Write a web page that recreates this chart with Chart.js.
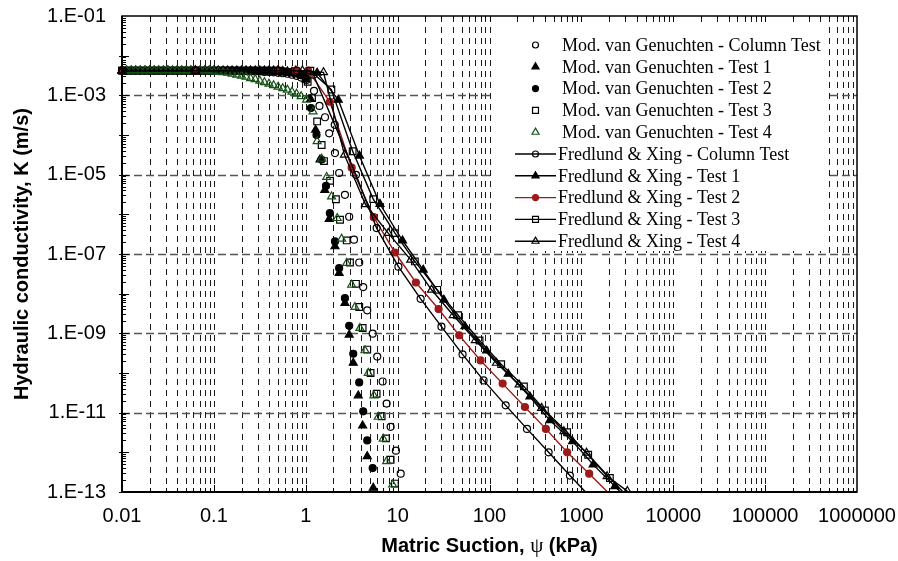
<!DOCTYPE html>
<html>
<head>
<meta charset="utf-8">
<title>Hydraulic conductivity vs matric suction</title>
<script src="https://cdn.jsdelivr.net/npm/chart.js@4.4.1/dist/chart.umd.min.js"></script>
<style>
  html, body { margin: 0; padding: 0; background: #fff; }
  #wrap { width: 898px; height: 561px; }
</style>
</head>
<body>
<div id="wrap"><canvas id="kChart" width="898" height="561"></canvas></div>
<script>
// Hydraulic conductivity K (m/s) against matric suction psi (kPa)

// axis labels
const suctionTickLabels = ['0.01', '0.1', '1', '10', '100', '1000', '10000', '100000', '1000000'];
const kTickValues = [1e-13, 1e-11, 1e-9, 1e-7, 1e-5, 1e-3, 1e-1];
const kTickLabels = ['1.E-13', '1.E-11', '1.E-09', '1.E-07', '1.E-05', '1.E-03', '1.E-01'];

const seriesNames = [
  'Mod. van Genuchten - Column Test',
  'Mod. van Genuchten - Test 1',
  'Mod. van Genuchten - Test 2',
  'Mod. van Genuchten - Test 3',
  'Mod. van Genuchten - Test 4',
  'Fredlund & Xing - Column Test',
  'Fredlund & Xing - Test 1',
  'Fredlund & Xing - Test 2',
  'Fredlund & Xing - Test 3',
  'Fredlund & Xing - Test 4'
];

// Mod. van Genuchten: saturated part shared by every test
const psiFlat = [0.010, 0.0112, 0.0126, 0.0141, 0.0158, 0.0178, 0.0200, 0.0224, 0.0251, 0.0282,
                 0.0316, 0.0355, 0.0398, 0.0447, 0.0501, 0.0562, 0.0631, 0.0708, 0.0794, 0.0891];
const kFlat = [4.2e-3, 4.2e-3, 4.2e-3, 4.2e-3, 4.2e-3, 4.2e-3, 4.2e-3, 4.2e-3, 4.2e-3, 4.2e-3,
               4.2e-3, 4.2e-3, 4.2e-3, 4.2e-3, 4.2e-3, 4.2e-3, 4.2e-3, 4.2e-3, 4.2e-3, 4.2e-3];

// Mod. van Genuchten: 0.1 - 0.9 kPa
const psiMid = [0.100, 0.112, 0.126, 0.141, 0.158, 0.178, 0.200, 0.224, 0.251, 0.282,
                0.316, 0.355, 0.398, 0.447, 0.501, 0.562, 0.631, 0.708, 0.794, 0.891];
const kMidCol = [4.2e-3, 4.2e-3, 4.2e-3, 4.2e-3, 4.2e-3, 4.2e-3, 4.1e-3, 4.1e-3, 4.1e-3, 4.0e-3,
                 4.0e-3, 3.9e-3, 3.9e-3, 3.8e-3, 3.7e-3, 3.6e-3, 3.5e-3, 3.3e-3, 3.1e-3, 2.8e-3];
const kMidT1 = [4.2e-3, 4.2e-3, 4.2e-3, 4.2e-3, 4.2e-3, 4.2e-3, 4.2e-3, 4.2e-3, 4.2e-3, 4.2e-3,
                4.2e-3, 4.2e-3, 4.2e-3, 4.2e-3, 4.1e-3, 4.1e-3, 4.0e-3, 3.9e-3, 3.7e-3, 3.3e-3];
const kMidT2 = [4.2e-3, 4.2e-3, 4.2e-3, 4.2e-3, 4.2e-3, 4.2e-3, 4.2e-3, 4.2e-3, 4.2e-3, 4.2e-3,
                4.2e-3, 4.2e-3, 4.2e-3, 4.2e-3, 4.1e-3, 4.0e-3, 3.9e-3, 3.8e-3, 3.6e-3, 3.2e-3];
const kMidT3 = [4.2e-3, 4.2e-3, 4.2e-3, 4.2e-3, 4.2e-3, 4.2e-3, 4.2e-3, 4.2e-3, 4.2e-3, 4.2e-3,
                4.2e-3, 4.2e-3, 4.2e-3, 4.1e-3, 4.1e-3, 4.0e-3, 3.9e-3, 3.8e-3, 3.6e-3, 3.3e-3];
const kMidT4 = [4.0e-3, 3.88e-3, 3.77e-3, 3.67e-3, 3.46e-3, 3.27e-3, 3.08e-3, 2.91e-3, 2.67e-3, 2.52e-3,
                2.31e-3, 2.12e-3, 1.94e-3, 1.78e-3, 1.63e-3, 1.5e-3, 1.37e-3, 1.22e-3, 1.09e-3, 9.4e-4];

// Mod. van Genuchten: desaturation branch of each test
const psiColMvg = [1.02, 1.23, 1.41, 1.62, 1.80, 2.08, 2.31, 2.67, 2.97, 3.35,
                   3.82, 4.22, 4.67, 5.35, 6.00, 6.87, 7.59, 8.39, 9.58, 10.8];
const kColMvg = [2.44e-3, 1.3e-3, 5.4e-4, 2.8e-4, 1.1e-4, 3.5e-5, 1.1e-5, 3.1e-6, 8.7e-7, 2.3e-7,
                 6.1e-8, 1.47e-8, 3.8e-9, 9.8e-10, 2.6e-10, 6.1e-11, 1.7e-11, 4.4e-12, 1.1e-12, 2.9e-13];
const psiT1Mvg = [1.00, 1.13, 1.28, 1.43, 1.61, 1.80, 2.08, 2.31, 2.67, 2.97, 3.29, 3.73, 4.16, 4.67, 5.43];
const kT1Mvg = [2.5e-3, 8.0e-4, 1.35e-4, 2.4e-5, 4.1e-6, 7.6e-7, 1.55e-7, 3.3e-8, 5.8e-9, 9.2e-10,
                1.8e-10, 2.7e-11, 4.7e-12, 7.9e-13, 1.27e-13];
const psiT2Mvg = [1.00, 1.14, 1.31, 1.48, 1.66, 1.83, 2.08, 2.31, 2.67, 2.97, 3.29, 3.82, 4.22, 4.67, 5.35];
const kT2Mvg = [2.7e-3, 4.8e-4, 1.0e-4, 2.4e-5, 5.2e-6, 1.07e-6, 2.07e-7, 4.4e-8, 7.7e-9, 1.55e-9,
                3.06e-10, 5.8e-11, 1.08e-11, 2.0e-12, 4.0e-13];
const psiT3Mvg = [1.05, 1.17, 1.33, 1.49, 1.58, 1.84, 2.13, 2.36, 2.79, 3.03,
                  3.52, 3.82, 4.16, 4.67, 5.08, 5.91, 6.70, 7.46, 8.39, 9.35];
const kT3Mvg = [2.2e-3, 8.5e-4, 2.2e-4, 5.6e-5, 2.2e-5, 7.0e-6, 2.4e-6, 7.3e-7, 2.2e-7, 6.1e-8,
                1.77e-8, 4.6e-9, 1.36e-9, 3.9e-10, 1.0e-10, 3.0e-11, 8.1e-12, 2.25e-12, 6.5e-13, 1.63e-13];
const psiT4Mvg = [1.02, 1.20, 1.33, 1.49, 1.69, 1.91, 2.20, 2.46, 2.79, 3.16,
                  3.43, 3.89, 4.41, 4.79, 5.52, 6.15, 6.97, 7.59, 8.83];
const kT4Mvg = [7.7e-4, 3.9e-4, 6.9e-5, 2.5e-5, 8.7e-6, 2.8e-6, 8.0e-7, 2.4e-7, 5.9e-8, 1.68e-8,
                4.6e-9, 1.36e-9, 3.7e-10, 1.0e-10, 2.7e-11, 7.8e-12, 2.2e-12, 5.9e-13, 1.53e-13];

// Fredlund & Xing fits
const psiColFx = [0.01, 0.063, 0.50, 0.80, 1.21, 2.07, 3.52, 5.91, 10.2, 17.8, 30.0, 50.9, 86.2, 150, 256, 440, 750, 1270];
const kColFx = [4.2e-3, 4.2e-3, 4.2e-3, 4.2e-3, 3.3e-3, 1.8e-4, 9.9e-6, 4.5e-7, 4.8e-8, 7.4e-9, 1.47e-9,
                2.94e-10, 6.5e-11, 1.53e-11, 3.9e-12, 1.0e-12, 2.6e-13, 7.2e-14];
const psiT1Fx = [0.01, 0.063, 0.50, 0.78, 1.33, 2.26, 3.84, 6.42, 11.3, 19.0, 31.9, 54.0, 93.0, 160, 275, 454, 802, 1343, 2314, 3990];
const kT1Fx = [4.2e-3, 4.2e-3, 4.2e-3, 4.2e-3, 3.7e-3, 7.7e-4, 3.0e-5, 1.82e-6, 2.19e-7, 4.0e-8, 7.0e-9,
               1.49e-9, 3.65e-10, 9.5e-11, 2.53e-11, 6.4e-12, 1.89e-12, 4.9e-13, 1.39e-13, 3.8e-14];
const psiT2Fx = [0.01, 0.063, 0.49, 0.78, 1.06, 1.83, 3.16, 5.50, 9.35, 15.8, 27.9, 46.8, 80.0, 139, 243, 411, 700, 1216, 2090];
const kT2Fx = [4.2e-3, 4.2e-3, 4.2e-3, 4.2e-3, 4.2e-3, 6.9e-4, 1.5e-5, 8.5e-7, 1.09e-7, 1.91e-8, 4.1e-9,
               8.9e-10, 2.07e-10, 5.4e-11, 1.39e-11, 3.9e-12, 1.0e-12, 2.9e-13, 8.3e-14];
const psiT3Fx = [0.01, 0.063, 0.50, 1.12, 1.90, 3.24, 5.43, 9.35, 15.4, 27.0, 45.6, 78.0, 134, 237, 401, 700, 1186, 2042, 3500];
const kT3Fx = [4.2e-3, 4.2e-3, 4.2e-3, 4.2e-3, 1.4e-3, 3.9e-5, 2.42e-6, 3.36e-7, 6.5e-8, 1.25e-8, 2.86e-9,
               6.6e-10, 1.67e-10, 4.6e-11, 1.14e-11, 3.2e-12, 8.7e-13, 2.26e-13, 6.0e-14];
const psiT4Fx = [0.01, 0.063, 0.50, 0.92, 1.56, 2.64, 4.46, 7.90, 13.9, 23.4, 40.3, 70.2, 119, 210, 369, 645, 1138, 1908, 3165];
const kT4Fx = [4.2e-3, 4.2e-3, 4.2e-3, 4.2e-3, 3.8e-3, 3.15e-5, 1.79e-6, 3.36e-7, 7.1e-8, 1.25e-8, 2.86e-9,
               6.7e-10, 1.79e-10, 5.1e-11, 1.31e-11, 3.39e-12, 9.7e-13, 2.48e-13, 1.05e-13];

// ---- styling ----
const GREEN = '#155215';
const RED = '#9c1a1a';
const NONE = 'rgba(0,0,0,0)';
const SANS = '"Liberation Sans", Arial, sans-serif';
const SERIF = '"Liberation Serif", "Times New Roman", serif';
const markerSize = { circle: 3.5, triangle: 4.6, rect: 4.7 };

// one entry per legend row; `order` sets stacking (lower = drawn on top)
const series = [
  { psi: [...psiFlat, ...psiMid, ...psiColMvg], k: [...kFlat, ...kMidCol, ...kColMvg], style: 'circle', fill: NONE, color: '#000', line: false, order: 7 },
  { psi: [...psiFlat, ...psiMid, ...psiT1Mvg], k: [...kFlat, ...kMidT1, ...kT1Mvg], style: 'triangle', fill: '#000', color: '#000', line: false, order: 9 },
  { psi: [...psiFlat, ...psiMid, ...psiT2Mvg], k: [...kFlat, ...kMidT2, ...kT2Mvg], style: 'circle', fill: '#000', color: '#000', line: false, order: 8 },
  { psi: [...psiFlat, ...psiMid, ...psiT3Mvg], k: [...kFlat, ...kMidT3, ...kT3Mvg], style: 'rect', fill: NONE, color: '#000', line: false, order: 6 },
  { psi: [...psiFlat, ...psiMid, ...psiT4Mvg], k: [...kFlat, ...kMidT4, ...kT4Mvg], style: 'triangle', fill: NONE, color: GREEN, line: false, order: 5 },
  { psi: psiColFx, k: kColFx, style: 'circle', fill: NONE, color: '#000', line: true, order: 2 },
  { psi: psiT1Fx, k: kT1Fx, style: 'triangle', fill: '#000', color: '#000', line: true, order: 4 },
  { psi: psiT2Fx, k: kT2Fx, style: 'circle', fill: RED, color: RED, line: true, order: 3 },
  { psi: psiT3Fx, k: kT3Fx, style: 'rect', fill: NONE, color: '#000', line: true, order: 1 },
  { psi: psiT4Fx, k: kT4Fx, style: 'triangle', fill: NONE, color: '#000', line: true, order: 0 }
];

const datasets = series.map((s, n) => ({
  label: seriesNames[n],
  data: s.psi.map((x, i) => ({ x: x, y: s.k[i] })),
  showLine: s.line,
  borderColor: s.color,
  borderWidth: 1.4,
  pointStyle: s.style,
  pointRadius: markerSize[s.style],
  pointHoverRadius: markerSize[s.style],
  pointBackgroundColor: s.fill,
  pointBorderColor: s.color,
  pointBorderWidth: 1.2,
  order: s.order,
  clip: { left: 10, top: 10, right: 10, bottom: 1 }
}));

function drawMarker(ctx, style, r, cx, cy) {
  ctx.beginPath();
  if (style === 'circle') {
    ctx.arc(cx, cy, r, 0, Math.PI * 2);
  } else if (style === 'rect') {
    const h = r * Math.SQRT1_2;
    ctx.rect(cx - h, cy - h, 2 * h, 2 * h);
  } else {
    ctx.moveTo(cx, cy - r);
    ctx.lineTo(cx + r * 0.866, cy + r * 0.5);
    ctx.lineTo(cx - r * 0.866, cy + r * 0.5);
    ctx.closePath();
  }
  ctx.fill();
  ctx.stroke();
}

// grid, frame, tick marks, legend box and the x title
const plotFrame = {
  id: 'plotFrame',
  beforeDatasetsDraw(chart) {
    const { ctx, chartArea: a, scales: { x, y } } = chart;
    ctx.save();
    ctx.lineWidth = 1;

    // vertical dashed lines at every 1..9 step of each decade
    ctx.strokeStyle = '#1a1a1a';
    ctx.setLineDash([6, 5]);
    for (let e = -2; e < 6; e++) {
      for (let m = 1; m < 10; m++) {
        if (e === -2 && m === 1) continue;
        const px = Math.round(x.getPixelForValue(m * Math.pow(10, e))) + 0.5;
        ctx.beginPath();
        ctx.moveTo(px, a.top);
        ctx.lineTo(px, a.bottom);
        ctx.stroke();
      }
    }

    // horizontal dashed lines at the labelled decades
    ctx.strokeStyle = '#555';
    ctx.lineWidth = 1.3;
    ctx.setLineDash([8, 4]);
    kTickValues.slice(1, -1).forEach(v => {
      const py = Math.round(y.getPixelForValue(v)) + 0.5;
      ctx.beginPath();
      ctx.moveTo(a.left, py);
      ctx.lineTo(a.right, py);
      ctx.stroke();
    });
    ctx.restore();
  },

  afterDatasetsDraw(chart) {
    const { ctx, chartArea: a, scales: { x, y } } = chart;
    ctx.save();

    // legend
    const box = { left: 493, top: 24, right: 826, bottom: 251 };
    ctx.fillStyle = '#fff';
    ctx.fillRect(box.left, box.top, box.right - box.left, box.bottom - box.top);
    ctx.font = '18px ' + SERIF;
    ctx.textBaseline = 'middle';
    ctx.textAlign = 'left';
    series.forEach((s, i) => {
      const ry = 45 + i * 21.8;
      const mx = 535.5;
      if (s.line) {
        ctx.strokeStyle = s.color;
        ctx.lineWidth = 1.4;
        ctx.beginPath();
        ctx.moveTo(515, ry);
        ctx.lineTo(556, ry);
        ctx.stroke();
      }
      ctx.lineWidth = 1.2;
      ctx.fillStyle = s.fill;
      ctx.strokeStyle = s.color;
      drawMarker(ctx, s.style, markerSize[s.style] - 0.5, mx, ry);
      ctx.fillStyle = '#000';
      ctx.fillText(seriesNames[i], s.line ? 558 : 562, ry + 1);
    });

    // frame
    ctx.strokeStyle = '#000';
    ctx.lineWidth = 1.5;
    ctx.strokeRect(a.left, a.top, a.right - a.left, a.bottom - a.top);
    ctx.lineWidth = 2;
    ctx.beginPath();
    ctx.moveTo(a.left, a.top);
    ctx.lineTo(a.left, a.bottom);
    ctx.lineTo(a.right, a.bottom);
    ctx.stroke();

    // tick marks on the bottom and top edges
    ctx.lineWidth = 1;
    for (let e = -2; e < 6; e++) {
      for (let m = 1; m < 10; m++) {
        const px = Math.round(x.getPixelForValue(m * Math.pow(10, e))) + 0.5;
        const len = m === 1 ? 7 : 4;
        ctx.beginPath();
        ctx.moveTo(px, a.bottom);
        ctx.lineTo(px, a.bottom - len);
        ctx.moveTo(px, a.top);
        ctx.lineTo(px, a.top + len - 1);
        ctx.stroke();
      }
    }

    // tick marks on the left edge
    for (let e = -13; e < -1; e++) {
      for (let m = 1; m < 10; m++) {
        const py = Math.round(y.getPixelForValue(m * Math.pow(10, e))) + 0.5;
        ctx.beginPath();
        if (m === 1) {
          ctx.moveTo(a.left - 3, py);
          ctx.lineTo(a.left + 7, py);
        } else {
          ctx.moveTo(a.left, py);
          ctx.lineTo(a.left + 4, py);
        }
        ctx.stroke();
      }
    }

    // x title, with the Greek psi set in a serif face
    const parts = [
      ['Matric Suction, ', 'bold 20px ' + SANS],
      ['\u03C8', '21px ' + SERIF],
      [' (kPa)', 'bold 20px ' + SANS]
    ];
    let total = 0;
    parts.forEach(p => { ctx.font = p[1]; total += ctx.measureText(p[0]).width; });
    let tx = (a.left + a.right) / 2 - total / 2;
    ctx.fillStyle = '#000';
    ctx.textBaseline = 'middle';
    ctx.textAlign = 'left';
    parts.forEach(p => {
      ctx.font = p[1];
      ctx.fillText(p[0], tx, 546);
      tx += ctx.measureText(p[0]).width;
    });
    ctx.restore();
  }
};

new Chart(document.getElementById('kChart'), {
  type: 'scatter',
  data: { datasets: datasets },
  options: {
    responsive: false,
    animation: false,
    devicePixelRatio: 1,
    layout: { padding: { top: 16, right: 41, bottom: 0, left: 0 } },
    plugins: { legend: { display: false }, tooltip: { enabled: false } },
    events: [],
    scales: {
      x: {
        type: 'logarithmic',
        min: 0.01,
        max: 1e6,
        // tick marks are drawn by plotFrame; tickLength only spaces the labels
        grid: { display: false, drawTicks: true, tickLength: 12 },
        border: { display: false },
        ticks: {
          autoSkip: false,
          maxRotation: 0,
          minRotation: 0,
          padding: 0,
          color: '#000',
          font: { family: SANS, size: 20 },
          callback: function (value) {
            const e = Math.round(Math.log10(value));
            if (Math.abs(value / Math.pow(10, e) - 1) > 1e-6) return null;
            return suctionTickLabels[e + 2];
          }
        },
        afterFit: function (scale) { scale.height = 69; }
      },
      y: {
        type: 'logarithmic',
        min: 1e-13,
        max: 1e-1,
        grid: { display: false, drawTicks: true, tickLength: 16 },
        border: { display: false },
        title: {
          display: true,
          text: 'Hydraulic conductivity, K (m/s)',
          color: '#000',
          font: { family: SANS, size: 20, weight: 'bold' },
          padding: { top: 10, bottom: 0 }
        },
        ticks: {
          autoSkip: false,
          padding: 0,
          color: '#000',
          font: { family: SANS, size: 20 },
          callback: function (value) {
            const i = kTickValues.findIndex(v => Math.abs(value / v - 1) < 1e-6);
            return i < 0 ? null : kTickLabels[i];
          }
        },
        afterFit: function (scale) { scale.width = 122; }
      }
    }
  },
  plugins: [plotFrame]
});
</script>
</body>
</html>
